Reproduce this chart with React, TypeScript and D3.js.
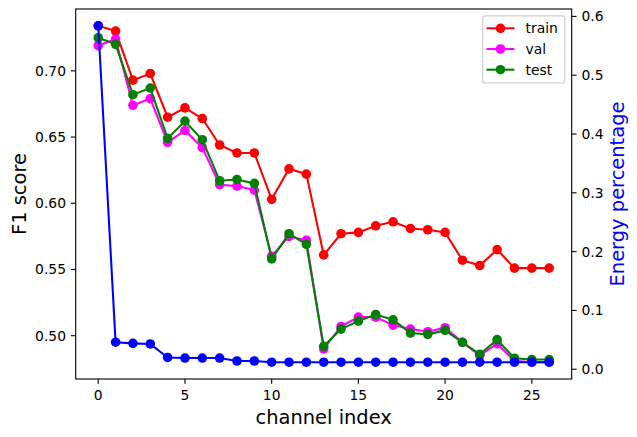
import React from "react";
import { scaleLinear, line, extent } from "d3";

const channels = Array.from({ length: 27 }, (_, i) => i);

const train = [
  0.734, 0.730, 0.693, 0.698, 0.665, 0.672, 0.664, 0.644, 0.638, 0.638, 0.603,
  0.626, 0.622, 0.561, 0.577, 0.578, 0.583, 0.586, 0.581, 0.580, 0.578, 0.557,
  0.553, 0.565, 0.551, 0.551, 0.551,
];
const val = [
  0.719, 0.724, 0.674, 0.679, 0.646, 0.655, 0.642, 0.614, 0.613, 0.610, 0.560,
  0.575, 0.572, 0.490, 0.507, 0.514, 0.514, 0.508, 0.505, 0.503, 0.506, 0.495,
  0.485, 0.494, 0.481, 0.480, 0.480,
];
const test = [
  0.725, 0.720, 0.682, 0.687, 0.649, 0.662, 0.648, 0.617, 0.618, 0.615, 0.558,
  0.577, 0.569, 0.492, 0.505, 0.511, 0.516, 0.512, 0.502, 0.501, 0.504, 0.495,
  0.486, 0.497, 0.483, 0.482, 0.482,
];
const energy = [
  0.584, 0.046, 0.044, 0.043, 0.020, 0.019, 0.019, 0.019, 0.014, 0.014, 0.012,
  0.012, 0.012, 0.012, 0.012, 0.012, 0.012, 0.012, 0.012, 0.012, 0.012, 0.012,
  0.012, 0.012, 0.012, 0.012, 0.012,
];

const xTicks = [0, 5, 10, 15, 20, 25];
const f1Ticks = [0.5, 0.55, 0.6, 0.65, 0.7];
const energyTicks = [0, 0.1, 0.2, 0.3, 0.4, 0.5, 0.6];

const f1Series = [
  { name: "train", values: train, color: "#ff0000" },
  { name: "val", values: val, color: "#ff00ff" },
  { name: "test", values: test, color: "#008000" },
];

// matplotlib-like autoscale with 5% margins
const pad = ([lo, hi]: [number, number]): [number, number] => {
  const m = (hi - lo) * 0.05;
  return [lo - m, hi + m];
};

const W = 637;
const H = 437;
const box = { left: 75.7, right: 571.7, top: 9, bottom: 379 };
const font = "DejaVu Sans, sans-serif";
const tickLen = 4.86;
const r = 4.8;

export default function App() {
  const x = scaleLinear()
    .domain(pad(extent(channels) as [number, number]))
    .range([box.left, box.right]);
  const y = scaleLinear()
    .domain(pad(extent([...train, ...val, ...test]) as [number, number]))
    .range([box.bottom, box.top]);
  const y2 = scaleLinear()
    .domain(pad(extent(energy) as [number, number]))
    .range([box.bottom, box.top]);

  const f1Line = line<number>()
    .x((_, i) => x(channels[i]))
    .y((d) => y(d));
  const energyLine = line<number>()
    .x((_, i) => x(channels[i]))
    .y((d) => y2(d));

  const legendX = 482.7;
  const legendRows = [28.3, 49.0, 69.7];

  return (
    <svg
      width={W}
      height={H}
      style={{ position: "absolute", left: 0, top: 0, background: "#fff" }}
      fontFamily={font}
    >
      <rect x={0} y={0} width={W} height={H} fill="#fff" />

      {f1Series.map((s) => (
        <g key={s.name}>
          <path d={f1Line(s.values) ?? ""} fill="none" stroke={s.color} strokeWidth={2.08} />
          {s.values.map((v, i) => (
            <circle key={i} cx={x(channels[i])} cy={y(v)} r={r} fill={s.color} />
          ))}
        </g>
      ))}

      {/* legend */}
      <rect
        x={legendX}
        y={15.9}
        width={564.8 - legendX}
        height={83 - 15.9}
        rx={2.8}
        fill="#fff"
        fillOpacity={0.8}
        stroke="#cccccc"
        strokeWidth={1.1}
      />
      {f1Series.map((s, i) => (
        <g key={s.name}>
          <line x1={486.6} x2={514.4} y1={legendRows[i]} y2={legendRows[i]} stroke={s.color} strokeWidth={2.08} />
          <circle cx={500.5} cy={legendRows[i]} r={r} fill={s.color} />
          <text x={525.6} y={legendRows[i]} dy={5} fontSize={13.89} fill="#000">
            {s.name}
          </text>
        </g>
      ))}

      {/* energy on twin axis */}
      <path d={energyLine(energy) ?? ""} fill="none" stroke="#0000ff" strokeWidth={2.08} />
      {energy.map((v, i) => (
        <circle key={i} cx={x(channels[i])} cy={y2(v)} r={r} fill="#0000ff" />
      ))}

      {/* frame */}
      <rect
        x={box.left}
        y={box.top}
        width={box.right - box.left}
        height={box.bottom - box.top}
        fill="none"
        stroke="#000"
        strokeWidth={1.11}
      />

      {/* x axis */}
      {xTicks.map((t) => (
        <g key={t}>
          <line x1={x(t)} x2={x(t)} y1={box.bottom} y2={box.bottom + tickLen} stroke="#000" strokeWidth={1.11} />
          <text x={x(t)} y={400} textAnchor="middle" fontSize={13.89}>
            {t}
          </text>
        </g>
      ))}
      <text x={(box.left + box.right) / 2} y={424.3} textAnchor="middle" fontSize={19.44}>
        channel index
      </text>

      {/* left axis */}
      {f1Ticks.map((t) => (
        <g key={t}>
          <line x1={box.left - tickLen} x2={box.left} y1={y(t)} y2={y(t)} stroke="#000" strokeWidth={1.11} />
          <text x={box.left - 9.7} y={y(t)} dy={5} textAnchor="end" fontSize={13.89}>
            {t.toFixed(2)}
          </text>
        </g>
      ))}
      <text
        transform={`translate(25.5,${(box.top + box.bottom) / 2}) rotate(-90)`}
        textAnchor="middle"
        fontSize={19.44}
      >
        F1 score
      </text>

      {/* right axis */}
      {energyTicks.map((t) => (
        <g key={t}>
          <line x1={box.right} x2={box.right + tickLen} y1={y2(t)} y2={y2(t)} stroke="#000" strokeWidth={1.11} />
          <text x={box.right + 9.7} y={y2(t)} dy={5} textAnchor="start" fontSize={13.89}>
            {t.toFixed(1)}
          </text>
        </g>
      ))}
      <text
        transform={`translate(623.5,${(box.top + box.bottom) / 2}) rotate(-90)`}
        textAnchor="middle"
        fontSize={19.44}
        fill="#0000ff"
      >
        Energy percentage
      </text>
    </svg>
  );
}
